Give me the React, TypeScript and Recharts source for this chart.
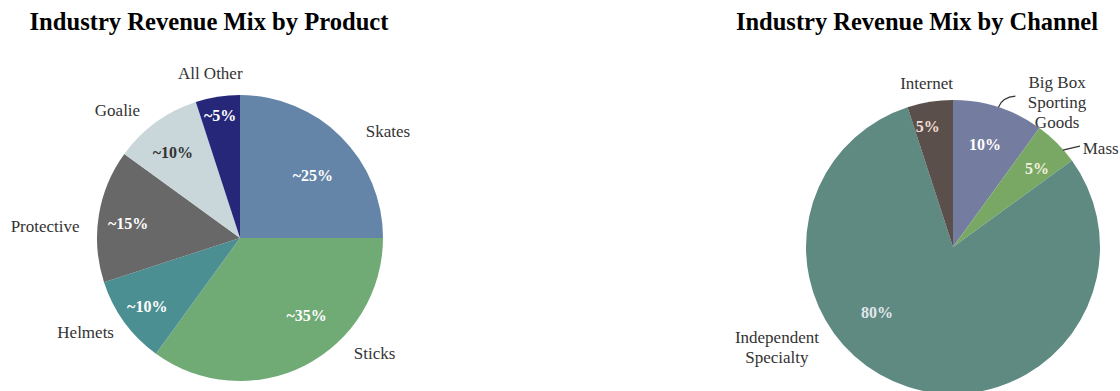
import { Cell, Pie, PieChart, type PieLabelRenderProps } from "recharts";

const productNames = ["Skates", "Sticks", "Helmets", "Protective", "Goalie", "All Other"];
const productShares = [25, 35, 10, 15, 10, 5];
const productTags = ["~25%", "~35%", "~10%", "~15%", "~10%", "~5%"];

const channelNames = ["Big Box\nSporting\nGoods", "Mass", "Independent\nSpecialty", "Internet"];
const channelShares = [10, 5, 80, 5];
const channelTags = ["10%", "5%", "80%", "5%"];

const productData = productNames.map((name, i) => ({ name, value: productShares[i], tag: productTags[i] }));
const channelData = channelNames.map((name, i) => ({ name, value: channelShares[i], tag: channelTags[i] }));

const PRODUCT_COLORS = ["#6585a8", "#70aa74", "#4b8f92", "#686868", "#c9d7db", "#27277a"];
const PRODUCT_TAG_COLORS = ["#fff", "#fff", "#fff", "#fff", "#333", "#fff"];
const CHANNEL_COLORS = ["#747ca0", "#78a864", "#5e8a82", "#5a4f4a"];
const CHANNEL_TAG_COLORS = ["#fff", "#f0f0dd", "#e2e6ec", "#f0ddd5"];

// label nudges from the default spot on the mid angle
const PRODUCT_OUTER = [[27, 14], [57, -37], [-16, -7], [-26, 15], [-22, 10], [-3, 4]];
const PRODUCT_INNER = [[-3, 13], [18, -18], [-6, 5], [-6, 2], [-4, 1], [-3, -17]];
const CHANNEL_OUTER = [[50, 21], [6, 25], [-122, -66], [1, 9]];
const CHANNEL_INNER = [[-2, 2], [6, -1], [-42, -39], [-8, -12]];
const CHANNEL_ANCHOR = ["middle", "start", "middle", "middle"];
// leader lines, relative to the rim point: [from, control, to]
const CHANNEL_LEADERS: Record<number, number[][]> = {
	0: [[0, 0], [4, -10], [17, -11]],
	1: [[6, 7], [14, 5], [23, 3]],
};

const SERIF = '"Liberation Serif", "Times New Roman", serif';
const RADIAN = Math.PI / 180;
const LINE_H = 20;

const polar = (cx: number, cy: number, r: number, angle: number) => ({
	x: cx + r * Math.cos(-angle * RADIAN),
	y: cy + r * Math.sin(-angle * RADIAN),
});

type LabelCfg = {
	outer: number[][];
	inner: number[][];
	tagColors: string[];
	anchors?: string[];
	leaders?: Record<number, number[][]>;
};

const makeLabel = (cfg: LabelCfg) => (props: PieLabelRenderProps) => {
	const cx = Number(props.cx);
	const cy = Number(props.cy);
	const r = Number(props.outerRadius);
	const mid = props.midAngle ?? 0;
	const i = props.index ?? 0;
	const entry = props.payload as { name: string; tag: string };
	const lines = entry.name.split("\n");

	const out = polar(cx, cy, r + 28, mid);
	const ox = out.x + cfg.outer[i][0];
	const oy = out.y + cfg.outer[i][1];
	const inn = polar(cx, cy, r * 0.75, mid);
	const ix = inn.x + cfg.inner[i][0];
	const iy = inn.y + cfg.inner[i][1];
	const rim = polar(cx, cy, r, mid);
	const lead = cfg.leaders?.[i];

	return (
		<g>
			{lead && (
				<path
					d={`M${rim.x + lead[0][0]},${rim.y + lead[0][1]} Q${rim.x + lead[1][0]},${rim.y + lead[1][1]} ${rim.x + lead[2][0]},${rim.y + lead[2][1]}`}
					stroke="#333"
					strokeWidth={1.2}
					fill="none"
				/>
			)}
			<text
				x={ox}
				y={oy}
				textAnchor={(cfg.anchors?.[i] ?? "middle") as "middle" | "start" | "end"}
				dominantBaseline="central"
				fill="#333"
				fontFamily={SERIF}
				style={{ fontFamily: SERIF, fontSize: 17 }}>
				{lines.map((line, k) => (
					<tspan key={k} x={ox} dy={k === 0 ? (-(lines.length - 1) / 2) * LINE_H : LINE_H}>
						{line}
					</tspan>
				))}
			</text>
			<text
				x={ix}
				y={iy}
				textAnchor="middle"
				dominantBaseline="central"
				fill={cfg.tagColors[i]}
				fontFamily={SERIF}
				style={{ fontFamily: SERIF, fontSize: 16, fontWeight: "bold" }}>
				{entry.tag}
			</text>
		</g>
	);
};

const renderProductLabel = makeLabel({ outer: PRODUCT_OUTER, inner: PRODUCT_INNER, tagColors: PRODUCT_TAG_COLORS });
const renderChannelLabel = makeLabel({
	outer: CHANNEL_OUTER,
	inner: CHANNEL_INNER,
	tagColors: CHANNEL_TAG_COLORS,
	anchors: CHANNEL_ANCHOR,
	leaders: CHANNEL_LEADERS,
});

export default function App() {
	return (
		<div style={{ position: "absolute", left: 0, top: 0, width: 1120, height: 391, background: "#fff", overflow: "hidden" }}>
			<PieChart width={1120} height={391} margin={{ top: 0, right: 0, bottom: 0, left: 0 }}>
				<Pie
					data={productData}
					dataKey="value"
					cx={240}
					cy={238}
					outerRadius={143}
					startAngle={90}
					endAngle={-270}
					stroke="none"
					labelLine={false}
					label={renderProductLabel}
					isAnimationActive={false}>
					{productData.map((_, index) => (
						<Cell key={`p-${index}`} fill={PRODUCT_COLORS[index]} />
					))}
				</Pie>
				<Pie
					data={channelData}
					dataKey="value"
					cx={953}
					cy={247}
					outerRadius={147}
					startAngle={90}
					endAngle={-270}
					stroke="none"
					labelLine={false}
					label={renderChannelLabel}
					isAnimationActive={false}>
					{channelData.map((_, index) => (
						<Cell key={`c-${index}`} fill={CHANNEL_COLORS[index]} />
					))}
				</Pie>
			</PieChart>
			<svg width={1120} height={391} style={{ position: "absolute", left: 0, top: 0, pointerEvents: "none" }}>
				<text x={209} y={30} textAnchor="middle" style={{ fontFamily: SERIF, fontSize: 24.6, fontWeight: "bold" }}>
					Industry Revenue Mix by Product
				</text>
				<text x={917} y={30} textAnchor="middle" style={{ fontFamily: SERIF, fontSize: 24.5, fontWeight: "bold" }}>
					Industry Revenue Mix by Channel
				</text>
			</svg>
		</div>
	);
}
